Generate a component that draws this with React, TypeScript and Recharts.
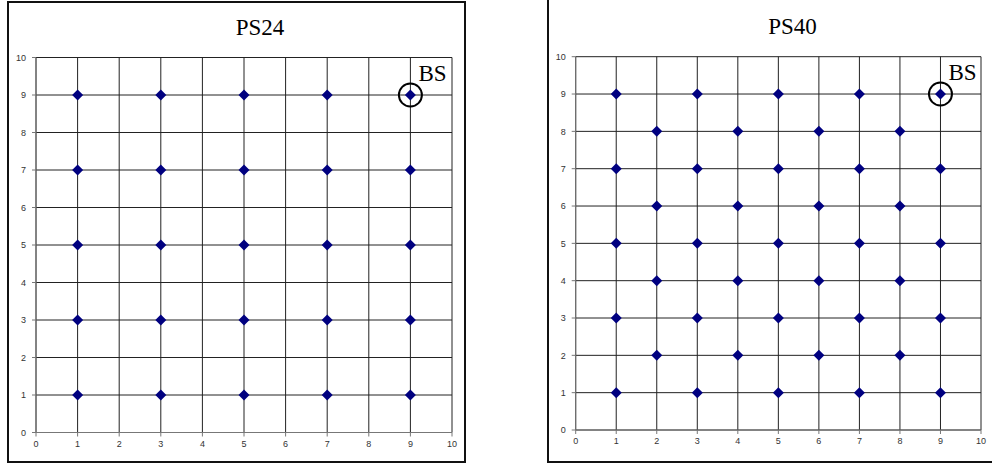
import React from "react";
import { ScatterChart, Scatter, XAxis, YAxis, CartesianGrid, ReferenceDot } from "recharts";

// Pilot-symbol positions (subcarrier index x, OFDM symbol index y)
const ps24Points = [
  { x: 1, y: 1 }, { x: 3, y: 1 }, { x: 5, y: 1 }, { x: 7, y: 1 }, { x: 9, y: 1 },
  { x: 1, y: 3 }, { x: 3, y: 3 }, { x: 5, y: 3 }, { x: 7, y: 3 }, { x: 9, y: 3 },
  { x: 1, y: 5 }, { x: 3, y: 5 }, { x: 5, y: 5 }, { x: 7, y: 5 }, { x: 9, y: 5 },
  { x: 1, y: 7 }, { x: 3, y: 7 }, { x: 5, y: 7 }, { x: 7, y: 7 }, { x: 9, y: 7 },
  { x: 1, y: 9 }, { x: 3, y: 9 }, { x: 5, y: 9 }, { x: 7, y: 9 }, { x: 9, y: 9 },
];

const ps40Points = [
  { x: 1, y: 1 }, { x: 3, y: 1 }, { x: 5, y: 1 }, { x: 7, y: 1 }, { x: 9, y: 1 },
  { x: 2, y: 2 }, { x: 4, y: 2 }, { x: 6, y: 2 }, { x: 8, y: 2 },
  { x: 1, y: 3 }, { x: 3, y: 3 }, { x: 5, y: 3 }, { x: 7, y: 3 }, { x: 9, y: 3 },
  { x: 2, y: 4 }, { x: 4, y: 4 }, { x: 6, y: 4 }, { x: 8, y: 4 },
  { x: 1, y: 5 }, { x: 3, y: 5 }, { x: 5, y: 5 }, { x: 7, y: 5 }, { x: 9, y: 5 },
  { x: 2, y: 6 }, { x: 4, y: 6 }, { x: 6, y: 6 }, { x: 8, y: 6 },
  { x: 1, y: 7 }, { x: 3, y: 7 }, { x: 5, y: 7 }, { x: 7, y: 7 }, { x: 9, y: 7 },
  { x: 2, y: 8 }, { x: 4, y: 8 }, { x: 6, y: 8 }, { x: 8, y: 8 },
  { x: 1, y: 9 }, { x: 3, y: 9 }, { x: 5, y: 9 }, { x: 7, y: 9 }, { x: 9, y: 9 },
];

const axisTicks = [0, 1, 2, 3, 4, 5, 6, 7, 8, 9, 10];
const basePoint = { x: 9, y: 9, label: "BS" };

const SERIF = "'Liberation Serif', 'Times New Roman', serif";
const SANS = "'Liberation Sans', Arial, sans-serif";
const MARKER = "#000080";

const Diamond = (props: any) => {
  const { cx, cy } = props;
  const h = 5.5;
  return (
    <polygon
      points={`${cx},${cy - h} ${cx + h},${cy} ${cx},${cy + h} ${cx - h},${cy}`}
      fill={MARKER}
    />
  );
};

const BaseStation = (props: any) => {
  const { cx, cy } = props;
  return (
    <g>
      <circle cx={cx} cy={cy} r={11.5} fill="none" stroke="#000" strokeWidth={2} />
      <text x={cx + 8} y={cy - 14} fontFamily={SERIF} fontSize={23} fill="#000">
        {basePoint.label}
      </text>
    </g>
  );
};

type PanelProps = {
  points: { x: number; y: number }[];
  width: number;
  height: number;
  margin: { top: number; right: number; bottom: number; left: number };
};

const Panel = ({ points, width, height, margin }: PanelProps) => (
  <ScatterChart width={width} height={height} margin={margin}>
    <CartesianGrid stroke="#222" strokeWidth={1} />
    <XAxis
      type="number"
      dataKey="x"
      domain={[0, 10]}
      ticks={axisTicks}
      interval={0}
      height={20}
      tickSize={4}
      tickMargin={4}
      stroke="#777"
      tick={{ fill: "#333", fontSize: 9, fontFamily: SANS }}
    />
    <YAxis
      type="number"
      dataKey="y"
      domain={[0, 10]}
      ticks={axisTicks}
      interval={0}
      width={25}
      tickSize={4}
      tickMargin={6}
      stroke="#777"
      tick={{ fill: "#333", fontSize: 9, fontFamily: SANS }}
    />
    <Scatter data={points} shape={Diamond} isAnimationActive={false} />
    <ReferenceDot x={basePoint.x} y={basePoint.y} shape={BaseStation} />
  </ScatterChart>
);

const titleStyle: React.CSSProperties = {
  position: "absolute",
  fontFamily: SERIF,
  fontSize: 23,
  lineHeight: "23px",
  textAlign: "center",
  width: 120,
  color: "#000",
};

export default function App() {
  return (
    <div
      style={{
        position: "fixed",
        left: 0,
        top: 0,
        width: 992,
        height: 465,
        background: "#fff",
        overflow: "hidden",
      }}
    >
      {/* PS24 panel */}
      <div style={{ position: "absolute", left: 7, top: 1 }}>
        <Panel
          points={ps24Points}
          width={459}
          height={462}
          margin={{ top: 56.5, right: 14, bottom: 10.5, left: 4 }}
        />
      </div>
      <div
        style={{
          position: "absolute",
          left: 7,
          top: 1,
          width: 459,
          height: 462,
          border: "2px solid #111",
          boxSizing: "border-box",
          pointerEvents: "none",
        }}
      />
      <div style={{ ...titleStyle, left: 200, top: 16 }}>PS24</div>

      {/* PS40 panel */}
      <div style={{ position: "absolute", left: 547, top: 0 }}>
        <Panel
          points={ps40Points}
          width={445}
          height={462}
          margin={{ top: 56.7, right: 11, bottom: 12, left: 3.7 }}
        />
      </div>
      <div
        style={{
          position: "absolute",
          left: 547,
          top: -5,
          width: 460,
          height: 468,
          borderLeft: "2px solid #111",
          borderBottom: "2px solid #111",
          boxSizing: "border-box",
          pointerEvents: "none",
        }}
      />
      <div style={{ ...titleStyle, left: 732.5, top: 15 }}>PS40</div>
    </div>
  );
}
